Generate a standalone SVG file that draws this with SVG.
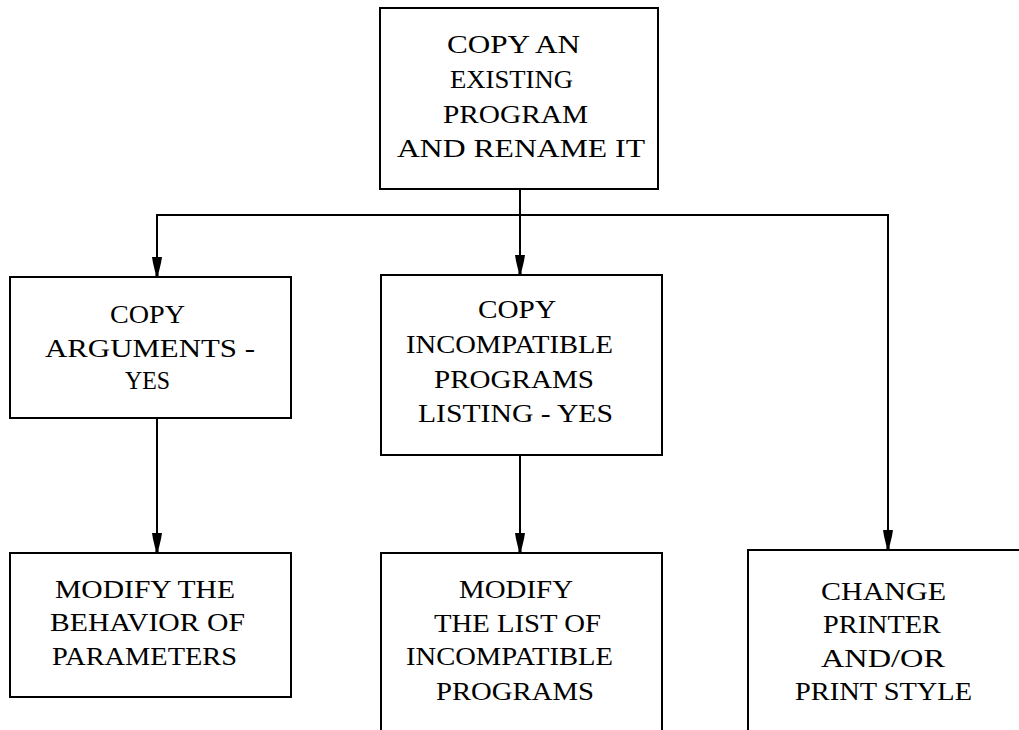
<svg xmlns="http://www.w3.org/2000/svg" width="1019" height="730" viewBox="0 0 1019 730">
  <style>
    .box { fill: #ffffff; stroke: #000000; stroke-width: 2; }
    .lbl { font-family: "Liberation Serif", "Times New Roman", serif; font-size: 25px; fill: #000000; }
    .wire { fill: none; stroke: #000000; stroke-width: 2; }
    .arrow { marker-end: url(#head); }
  </style>
  <defs>
    <!-- funnel-shaped filled arrowhead, tip at the line end -->
    <marker id="head" markerUnits="userSpaceOnUse" viewBox="-21 -6 22 12" markerWidth="22" markerHeight="12" refX="0" refY="0" orient="auto">
      <path d="M-20,-5 L-20,5 L-14,4 L-4,1.6 L0,1.6 L0,-1.6 L-4,-1.6 L-14,-4 Z" fill="#000000"/>
    </marker>
  </defs>
  <rect width="1019" height="730" fill="#ffffff"/>

  <g id="connectors">
    <path class="wire arrow" d="M520,189 V275"/>
    <path class="wire arrow" d="M520,215 H157 V277"/>
    <path class="wire arrow" d="M520,215 H888 V550"/>
    <path class="wire arrow" d="M157,418 V553"/>
    <path class="wire arrow" d="M520,455 V553"/>
  </g>

  <g id="copy-program">
    <rect class="box" x="380" y="8" width="278" height="181"/>
    <text class="lbl" x="447" y="53" textLength="133" lengthAdjust="spacingAndGlyphs">COPY AN</text>
    <text class="lbl" x="450" y="88" textLength="123" lengthAdjust="spacingAndGlyphs">EXISTING</text>
    <text class="lbl" x="443" y="123" textLength="145" lengthAdjust="spacingAndGlyphs">PROGRAM</text>
    <text class="lbl" x="397" y="157" textLength="248" lengthAdjust="spacingAndGlyphs">AND RENAME  IT</text>
  </g>

  <g id="copy-arguments">
    <rect class="box" x="10" y="277" width="281" height="141"/>
    <text class="lbl" x="110" y="323" textLength="75" lengthAdjust="spacingAndGlyphs">COPY</text>
    <text class="lbl" x="45" y="357" textLength="210" lengthAdjust="spacingAndGlyphs">ARGUMENTS  -</text>
    <text class="lbl" x="125" y="389" textLength="45" lengthAdjust="spacingAndGlyphs">YES</text>
  </g>

  <g id="copy-incompatible">
    <rect class="box" x="381" y="275" width="281" height="180"/>
    <text class="lbl" x="478" y="318" textLength="78" lengthAdjust="spacingAndGlyphs">COPY</text>
    <text class="lbl" x="406" y="353" textLength="207" lengthAdjust="spacingAndGlyphs">INCOMPATIBLE</text>
    <text class="lbl" x="434" y="388" textLength="160" lengthAdjust="spacingAndGlyphs">PROGRAMS</text>
    <text class="lbl" x="418" y="422" textLength="195" lengthAdjust="spacingAndGlyphs">LISTING  - YES</text>
  </g>

  <g id="modify-behavior">
    <rect class="box" x="10" y="553" width="281" height="144"/>
    <text class="lbl" x="55" y="598" textLength="180" lengthAdjust="spacingAndGlyphs">MODIFY THE</text>
    <text class="lbl" x="50" y="631" textLength="195" lengthAdjust="spacingAndGlyphs">BEHAVIOR OF</text>
    <text class="lbl" x="52" y="665" textLength="185" lengthAdjust="spacingAndGlyphs">PARAMETERS</text>
  </g>

  <g id="modify-list">
    <rect class="box" x="381" y="553" width="281" height="200"/>
    <text class="lbl" x="459" y="598" textLength="114" lengthAdjust="spacingAndGlyphs">MODIFY</text>
    <text class="lbl" x="434" y="632" textLength="167" lengthAdjust="spacingAndGlyphs">THE LIST OF</text>
    <text class="lbl" x="406" y="665" textLength="207" lengthAdjust="spacingAndGlyphs">INCOMPATIBLE</text>
    <text class="lbl" x="436" y="700" textLength="158" lengthAdjust="spacingAndGlyphs">PROGRAMS</text>
  </g>

  <g id="change-printer">
    <rect class="box" x="748" y="550" width="300" height="200"/>
    <text class="lbl" x="821" y="600" textLength="125" lengthAdjust="spacingAndGlyphs">CHANGE</text>
    <text class="lbl" x="823" y="633" textLength="118" lengthAdjust="spacingAndGlyphs">PRINTER</text>
    <text class="lbl" x="821" y="667" textLength="124" lengthAdjust="spacingAndGlyphs">AND/OR</text>
    <text class="lbl" x="795" y="700" textLength="177" lengthAdjust="spacingAndGlyphs">PRINT  STYLE</text>
  </g>
</svg>
